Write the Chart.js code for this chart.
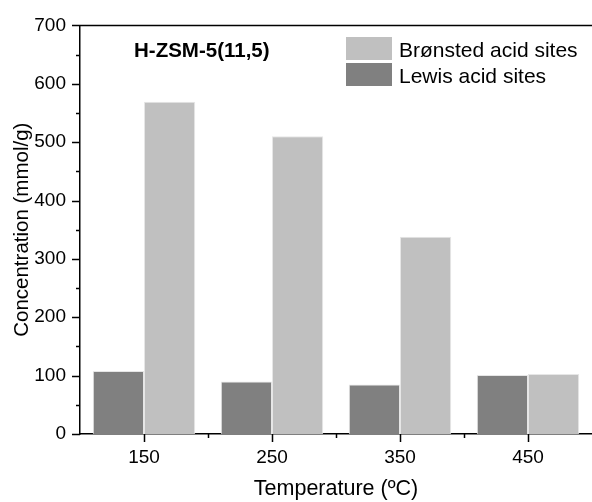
<!DOCTYPE html>
<html lang="en">
  <head>
    <meta charset="UTF-8" />
    <title>Acid sites</title>
    <style>
      html, body { margin: 0; padding: 0; background: #fff; }
      #wrap { width: 592px; height: 502px; }
    </style>
  </head>
  <body>
    <div id="wrap"><canvas id="myChart" width="592" height="502"></canvas></div>

    <script src="https://cdn.jsdelivr.net/npm/chart.js@4/dist/chart.umd.min.js"></script>
    <script>
      const temps = ["150", "250", "350", "450"];
      const lewisSites = [108, 90, 85, 101];
      const bronstedSites = [569, 510, 338, 103];
      const sampleName = "H-ZSM-5(11,5)";

      const font = "'Liberation Sans', Arial, sans-serif";

      // frame line on top, hand-drawn tick marks, sample name and legend
      const decorations = {
        id: "decorations",
        afterDraw(chart) {
          const c = chart.ctx;
          const area = chart.chartArea;
          const x = chart.scales.x;
          const y = chart.scales.y;
          c.save();
          c.strokeStyle = "#000";
          c.lineWidth = 1.5;

          c.beginPath();
          c.moveTo(area.left, area.top);
          c.lineTo(area.right + 2, area.top);
          c.stroke();

          c.beginPath();
          for (let v = 0; v <= 700; v += 50) {
            const py = Math.round(y.getPixelForValue(v)) + 0.5;
            const len = v % 100 === 0 ? 8 : 4;
            c.moveTo(area.left - len, py);
            c.lineTo(area.left, py);
          }
          for (let i = 0; i < temps.length; i++) {
            const px = Math.round(x.getPixelForValue(i)) + 0.5;
            c.moveTo(px, area.bottom);
            c.lineTo(px, area.bottom + 8);
            if (i > 0) {
              const mid = Math.round((x.getPixelForValue(i - 1) + x.getPixelForValue(i)) / 2) + 0.5;
              c.moveTo(mid, area.bottom);
              c.lineTo(mid, area.bottom + 4);
            }
          }
          c.stroke();

          c.fillStyle = "#000";
          c.font = "bold 20.5px " + font;
          c.textBaseline = "alphabetic";
          c.fillText(sampleName, 134, 57);

          const items = [chart.data.datasets[1], chart.data.datasets[0]];
          items.forEach((ds, k) => {
            const top = 37 + k * 26;
            c.fillStyle = ds.backgroundColor;
            c.fillRect(346, top, 46, 23);
            c.fillStyle = "#000";
            c.font = "21px " + font;
            c.fillText(ds.label, 399, top + 20);
          });
          c.restore();
        }
      };

      const ctx = document.getElementById("myChart").getContext("2d");
      const chart = new Chart(ctx, {
        type: "bar",
        data: {
          labels: temps,
          datasets: [
            {
              label: "Lewis acid sites",
              data: lewisSites,
              backgroundColor: "#808080",
              borderColor: "#e6e6e6",
              borderWidth: 1,
              categoryPercentage: 0.8,
              barPercentage: 1.0
            },
            {
              label: "Brønsted acid sites",
              data: bronstedSites,
              backgroundColor: "#c0c0c0",
              borderColor: "#e6e6e6",
              borderWidth: 1,
              categoryPercentage: 0.8,
              barPercentage: 1.0
            }
          ]
        },
        options: {
          responsive: false,
          animation: false,
          layout: { padding: { top: 20, right: 0, left: 0, bottom: 0 } },
          plugins: {
            legend: { display: false },
            tooltip: { enabled: false }
          },
          scales: {
            x: {
              grid: { display: false, drawTicks: false },
              border: { display: true, color: "#000", width: 1.5 },
              ticks: { color: "#000", font: { family: font, size: 19 }, padding: 12 },
              title: {
                display: true,
                text: "Temperature (ºC)",
                color: "#000",
                font: { family: font, size: 21.5 },
                padding: { top: 3, bottom: 0 }
              },
              afterFit(scale) { scale.height = 68; }
            },
            y: {
              min: 0,
              max: 700,
              grid: { display: false, drawTicks: false },
              border: { display: true, color: "#000", width: 1.5 },
              ticks: { stepSize: 100, color: "#000", font: { family: font, size: 19 }, padding: 14 },
              title: {
                display: true,
                text: "Concentration (mmol/g)",
                color: "#000",
                font: { family: font, size: 20.5 },
                padding: { top: 10, bottom: 8 }
              },
              afterFit(scale) { scale.width = 80; }
            }
          }
        },
        plugins: [decorations]
      });
    </script>
  </body>
</html>
